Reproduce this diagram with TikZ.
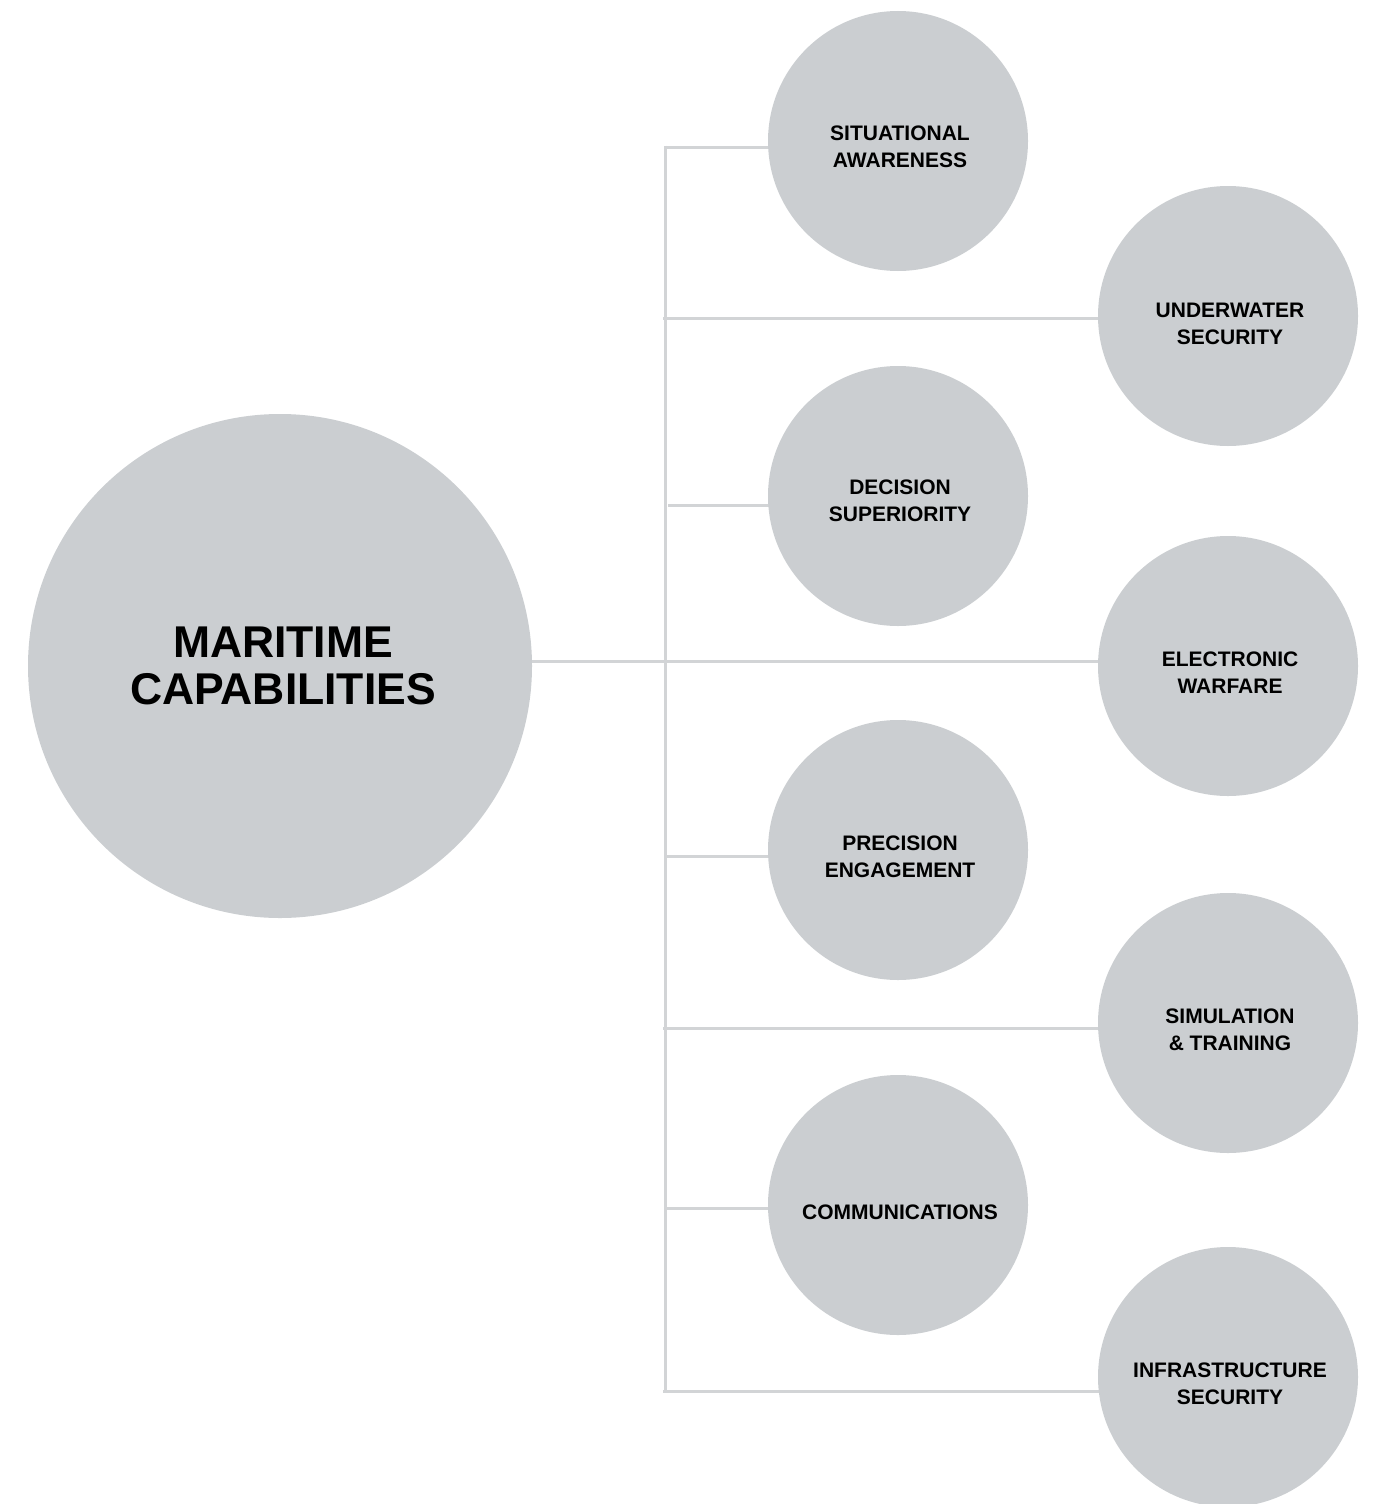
\documentclass[tikz,border=0pt]{standalone}
\usepackage{fontspec}
\setmainfont{Liberation Sans}
\usetikzlibrary{backgrounds}
\definecolor{circ}{HTML}{CBCED1}
\definecolor{linec}{HTML}{D2D4D6}
\tikzset{
  conn/.style={draw=linec, line width=3pt},
  bub/.style={circle, fill=circ, minimum size=260pt, inner sep=0pt},
  bigbub/.style={circle, fill=circ, minimum size=504pt, inner sep=0pt},
  lbl/.style={font=\fontsize{21}{27}\selectfont\bfseries, align=center, text=black, xshift=2pt},
  biglbl/.style={font=\fontsize{44.5}{47}\selectfont\bfseries, align=center, text=black, xshift=3pt},
}
\begin{document}
\begin{tikzpicture}[x=1pt,y=-1pt]
\useasboundingbox (0,0) rectangle (1376,1504);
\clip (0,0) rectangle (1376,1504);
% circles
\node[bigbub, label={[biglbl]center:MARITIME\\CAPABILITIES}] (mc) at (280,666) {};
\node[bub, label={[lbl,yshift=-6pt]center:SITUATIONAL\\AWARENESS}] (sa) at (898,141) {};
\node[bub, label={[lbl,yshift=-8pt]center:UNDERWATER\\SECURITY}] (uw) at (1228,316) {};
\node[bub, label={[lbl,yshift=-5pt]center:DECISION\\SUPERIORITY}] (ds) at (898,496) {};
\node[bub, label={[lbl,yshift=-7pt]center:ELECTRONIC\\WARFARE}] (ew) at (1228,666) {};
\node[bub, label={[lbl,yshift=-7pt]center:PRECISION\\ENGAGEMENT}] (pe) at (898,850) {};
\node[bub, label={[lbl,yshift=-7pt]center:SIMULATION\\\&\ TRAINING}] (st) at (1228,1023) {};
\node[bub, label={[lbl,yshift=-7pt]center:COMMUNICATIONS}] (co) at (898,1205) {};
\node[bub, label={[lbl,yshift=-7pt]center:INFRASTRUCTURE\\SECURITY}] (is) at (1228,1377) {};
% trunk coordinates
\coordinate (t1) at (665,147);
\coordinate (t2) at (663,318);
\coordinate (t3) at (668,505);
\coordinate (t4) at (665,661);
\coordinate (t5) at (665,856);
\coordinate (t6) at (663,1028);
\coordinate (t7) at (665,1208);
\coordinate (t8) at (663,1391);
\coordinate (ttop) at (665,145.5);
\coordinate (tbot) at (665,1392.5);
\begin{scope}[on background layer]
\draw[conn] (ttop) -- (tbot);
\draw[conn] (t1) -- (t1 -| sa.center);
\draw[conn] (t2) -- (t2 -| uw.center);
\draw[conn] (t3) -- (t3 -| ds.center);
\draw[conn] (t4 -| mc.center) -- (t4 -| ew.center);
\draw[conn] (t5) -- (t5 -| pe.center);
\draw[conn] (t6) -- (t6 -| st.center);
\draw[conn] (t7) -- (t7 -| co.center);
\draw[conn] (t8) -- (t8 -| is.center);
\end{scope}
\end{tikzpicture}
\end{document}
